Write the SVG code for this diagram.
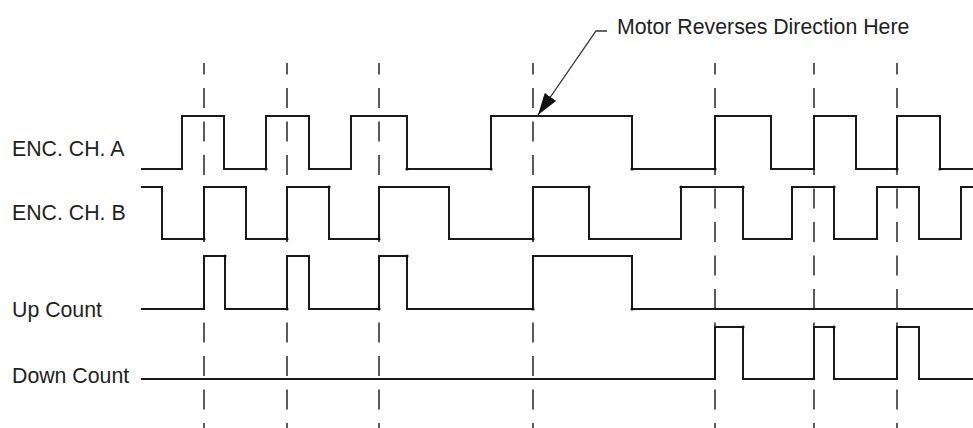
<svg xmlns="http://www.w3.org/2000/svg" width="973" height="428" viewBox="0 0 973 428">
<style>
.lbl{font-family:"Liberation Sans",Arial,sans-serif;font-size:21.3px;fill:#222}
.wave{fill:none;stroke:#1a1a1a;stroke-width:2;stroke-linejoin:miter}
.grid{stroke:#333;stroke-width:1.6;stroke-dasharray:20 13.5;stroke-dashoffset:8.5}
.dot{fill:#111}
</style>
<defs>
<marker id="arrow" markerUnits="userSpaceOnUse" markerWidth="24" markerHeight="16" refX="22" refY="7" orient="auto">
<path d="M0,0 L22,7 L0,14 Z" fill="#111"/>
</marker>
</defs>
<rect width="973" height="428" fill="#fff"/>
<g id="gridlines">
<line class="grid" x1="204" y1="63" x2="204" y2="428"/>
<line class="grid" x1="287" y1="63" x2="287" y2="428"/>
<line class="grid" x1="379" y1="63" x2="379" y2="428"/>
<line class="grid" x1="533" y1="63" x2="533" y2="428"/>
<line class="grid" x1="715" y1="63" x2="715" y2="428"/>
<line class="grid" x1="814" y1="63" x2="814" y2="428"/>
<line class="grid" x1="897" y1="63" x2="897" y2="428"/>
</g>
<g id="enc-a">
<text class="lbl" x="12" y="156">ENC. CH. A</text>
<path class="wave" d="M141,169 H182 V116 H224 V169 H266 V116 H309 V169 H351 V116 H407 V169 H491 V116 H632 V169 H715 V116 H771 V169 H814 V116 H856 V169 H897 V116 H940 V169 H973"/>
</g>
<g id="enc-b">
<text class="lbl" x="12" y="220">ENC. CH. B</text>
<path class="wave" d="M141,187 H162 V239 H204 V187 H246 V239 H287 V187 H329 V239 H379 V187 H449 V239 H533 V187 H589 V239 H681 V187 H743 V239 H792 V187 H834 V239 H877 V187 H919 V239 H961 V187 H973"/>
</g>
<g id="up-count">
<text class="lbl" x="12" y="317">Up Count</text>
<path class="wave" d="M141,309 H204 V256 H225 V309 H287 V256 H309 V309 H379 V256 H407 V309 H533 V256 H632 V309 H973"/>
</g>
<g id="down-count">
<text class="lbl" x="12" y="383">Down Count</text>
<path class="wave" d="M141,379 H715 V327 H743 V379 H814 V327 H834 V379 H897 V327 H919 V379 H973"/>
</g>
<g id="dots">
<circle class="dot" cx="266" cy="169" r="1.6"/>
<circle class="dot" cx="204" cy="239" r="1.6"/>
<circle class="dot" cx="287" cy="239" r="1.6"/>
<circle class="dot" cx="329" cy="187" r="1.6"/>
<circle class="dot" cx="379" cy="239" r="1.6"/>
<circle class="dot" cx="407" cy="169" r="1.6"/>
<circle class="dot" cx="491" cy="169" r="1.6"/>
<circle class="dot" cx="533" cy="239" r="1.6"/>
<circle class="dot" cx="589" cy="187" r="1.6"/>
<circle class="dot" cx="632" cy="169" r="1.6"/>
<circle class="dot" cx="681" cy="187" r="1.6"/>
<circle class="dot" cx="715" cy="169" r="1.6"/>
<circle class="dot" cx="743" cy="187" r="1.6"/>
<circle class="dot" cx="834" cy="187" r="1.6"/>
<circle class="dot" cx="897" cy="169" r="1.6"/>
<circle class="dot" cx="940" cy="169" r="1.6"/>
<circle class="dot" cx="225" cy="256" r="1.6"/>
<circle class="dot" cx="287" cy="309" r="1.6"/>
<circle class="dot" cx="379" cy="309" r="1.6"/>
<circle class="dot" cx="407" cy="256" r="1.6"/>
<circle class="dot" cx="533" cy="309" r="1.6"/>
<circle class="dot" cx="632" cy="309" r="1.6"/>
<circle class="dot" cx="743" cy="327" r="1.6"/>
<circle class="dot" cx="834" cy="327" r="1.6"/>
</g>
<g id="annotation">
<text class="lbl" x="617" y="34">Motor Reverses Direction Here</text>
<path d="M607,31 H596 L538,115" fill="none" stroke="#333" stroke-width="1.3" marker-end="url(#arrow)"/>
</g>
</svg>
